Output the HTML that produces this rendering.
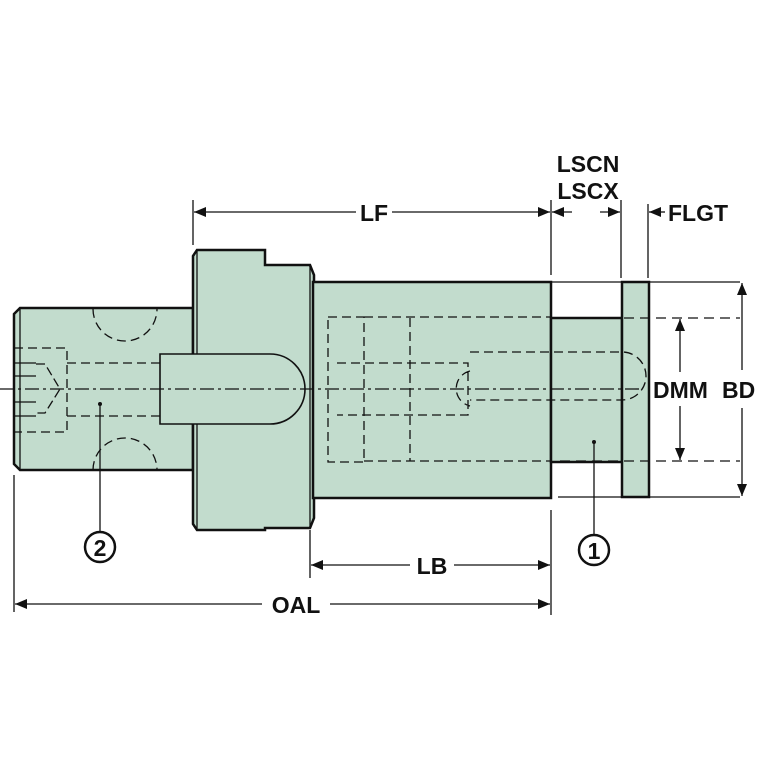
<!DOCTYPE html>
<html><head><meta charset="utf-8"><style>body{margin:0;background:#fff}svg{display:block}text{font-family:"Liberation Sans",Arial,sans-serif;font-weight:bold;fill:#111}</style></head><body>
<svg width="767" height="767" viewBox="0 0 767 767" xmlns="http://www.w3.org/2000/svg">
<defs><marker id="a" markerWidth="12" markerHeight="10" refX="12" refY="5" orient="auto-start-reverse" markerUnits="userSpaceOnUse"><path d="M0,0 L12,5 L0,10z" fill="#111"/></marker></defs>
<g fill="#c2dccd" stroke="#111" stroke-width="2.5">
<path d="M20,308 L193,308 L193,470 L20,470 L14,464 L14,314Z"/>
<path d="M197,250 L265,250 L265,265 L310,265 L314,275 L314,518 L310,528 L265,528 L265,530 L197,530 L193,524 L193,256Z"/>
<rect x="313" y="282" width="238" height="216"/>
<rect x="551" y="318" width="71" height="144"/>
<rect x="622" y="282" width="27" height="215"/>
</g>
<g stroke="#111" stroke-width="1.3" fill="none">
<line x1="20" y1="308" x2="20" y2="470"/><line x1="197" y1="250" x2="197" y2="530"/><line x1="310" y1="265" x2="310" y2="528"/>
<path d="M160,354 L270,354 A35,35 0 0 1 270,424 L160,424Z" fill="#c2dccd" stroke-width="1.6"/>
<path d="M470,352 L622,352 A24,24 0 0 1 622,400 L470,400" stroke-dasharray="9,5"/>
<path d="M14,348 H67 V432 H14 M67,363 H160 M67,416 H160" stroke-dasharray="9,5"/>
<path d="M14,363 H36 M14,376 H36 M14,402 H36 M14,416 H36"/>
<path d="M36,364 H45 L60,389 L45,413 H36" stroke-dasharray="9,4"/>
<path d="M93,309 A27,27 0 0 0 157,309 M93,470 A32,32 0 0 1 157,470" stroke-dasharray="9,5"/>
<path d="M328,317 H364 V462 H328Z M364,317 H551 M364,461 H551 M410,318 V461 M337,363 H468 V415 H337 M470,371 A18,18 0 0 0 470,406" stroke-dasharray="9,5"/>
<path d="M560,318 H740 M560,461 H740" stroke-dasharray="10,6"/>
<line x1="0" y1="389" x2="640" y2="389" stroke-dasharray="14,4,3,4"/>
<line x1="552" y1="282" x2="740" y2="282"/><line x1="558" y1="497" x2="740" y2="497"/>
<line x1="193" y1="200" x2="193" y2="245"/><line x1="551" y1="200" x2="551" y2="275"/><line x1="551" y1="510" x2="551" y2="615"/>
<line x1="621" y1="200" x2="621" y2="278"/><line x1="648" y1="204" x2="648" y2="278"/>
<line x1="14" y1="475" x2="14" y2="612"/><line x1="310" y1="530" x2="310" y2="578"/>
<line x1="100" y1="404" x2="100" y2="532"/><line x1="594" y1="442" x2="594" y2="534"/>
<g marker-start="url(#a)" marker-end="url(#a)"><line x1="194" y1="212" x2="356" y2="212" marker-end="none"/><line x1="392" y1="212" x2="550" y2="212" marker-start="none"/>
<line x1="311" y1="565" x2="410" y2="565" marker-end="none"/><line x1="454" y1="565" x2="550" y2="565" marker-start="none"/>
<line x1="15" y1="604" x2="262" y2="604" marker-end="none"/><line x1="330" y1="604" x2="550" y2="604" marker-start="none"/>
<line x1="742" y1="283" x2="742" y2="370" marker-end="none"/><line x1="742" y1="408" x2="742" y2="496" marker-start="none"/>
<line x1="680" y1="319" x2="680" y2="372" marker-end="none"/><line x1="680" y1="406" x2="680" y2="460" marker-start="none"/></g>
<line x1="572" y1="212" x2="552" y2="212" marker-end="url(#a)"/><line x1="600" y1="212" x2="620" y2="212" marker-end="url(#a)"/>
<line x1="665" y1="212" x2="649" y2="212" marker-end="url(#a)"/>
</g>
<circle cx="100" cy="547" r="15" fill="#fff" stroke="#111" stroke-width="2.5"/>
<circle cx="594" cy="550" r="15" fill="#fff" stroke="#111" stroke-width="2.5"/>
<circle cx="100" cy="404" r="2" fill="#111"/><circle cx="594" cy="442" r="2" fill="#111"/>
<g font-size="23">
<text x="100" y="556" text-anchor="middle">2</text><text x="594" y="559" text-anchor="middle">1</text>
<text x="374" y="221" text-anchor="middle">LF</text>
<text x="588" y="172" text-anchor="middle">LSCN</text><text x="588" y="199" text-anchor="middle">LSCX</text>
<text x="668" y="221">FLGT</text>
<text x="653" y="398">DMM</text><text x="722" y="398">BD</text>
<text x="432" y="574" text-anchor="middle">LB</text><text x="296" y="613" text-anchor="middle">OAL</text>
</g>
</svg>
</body></html>
